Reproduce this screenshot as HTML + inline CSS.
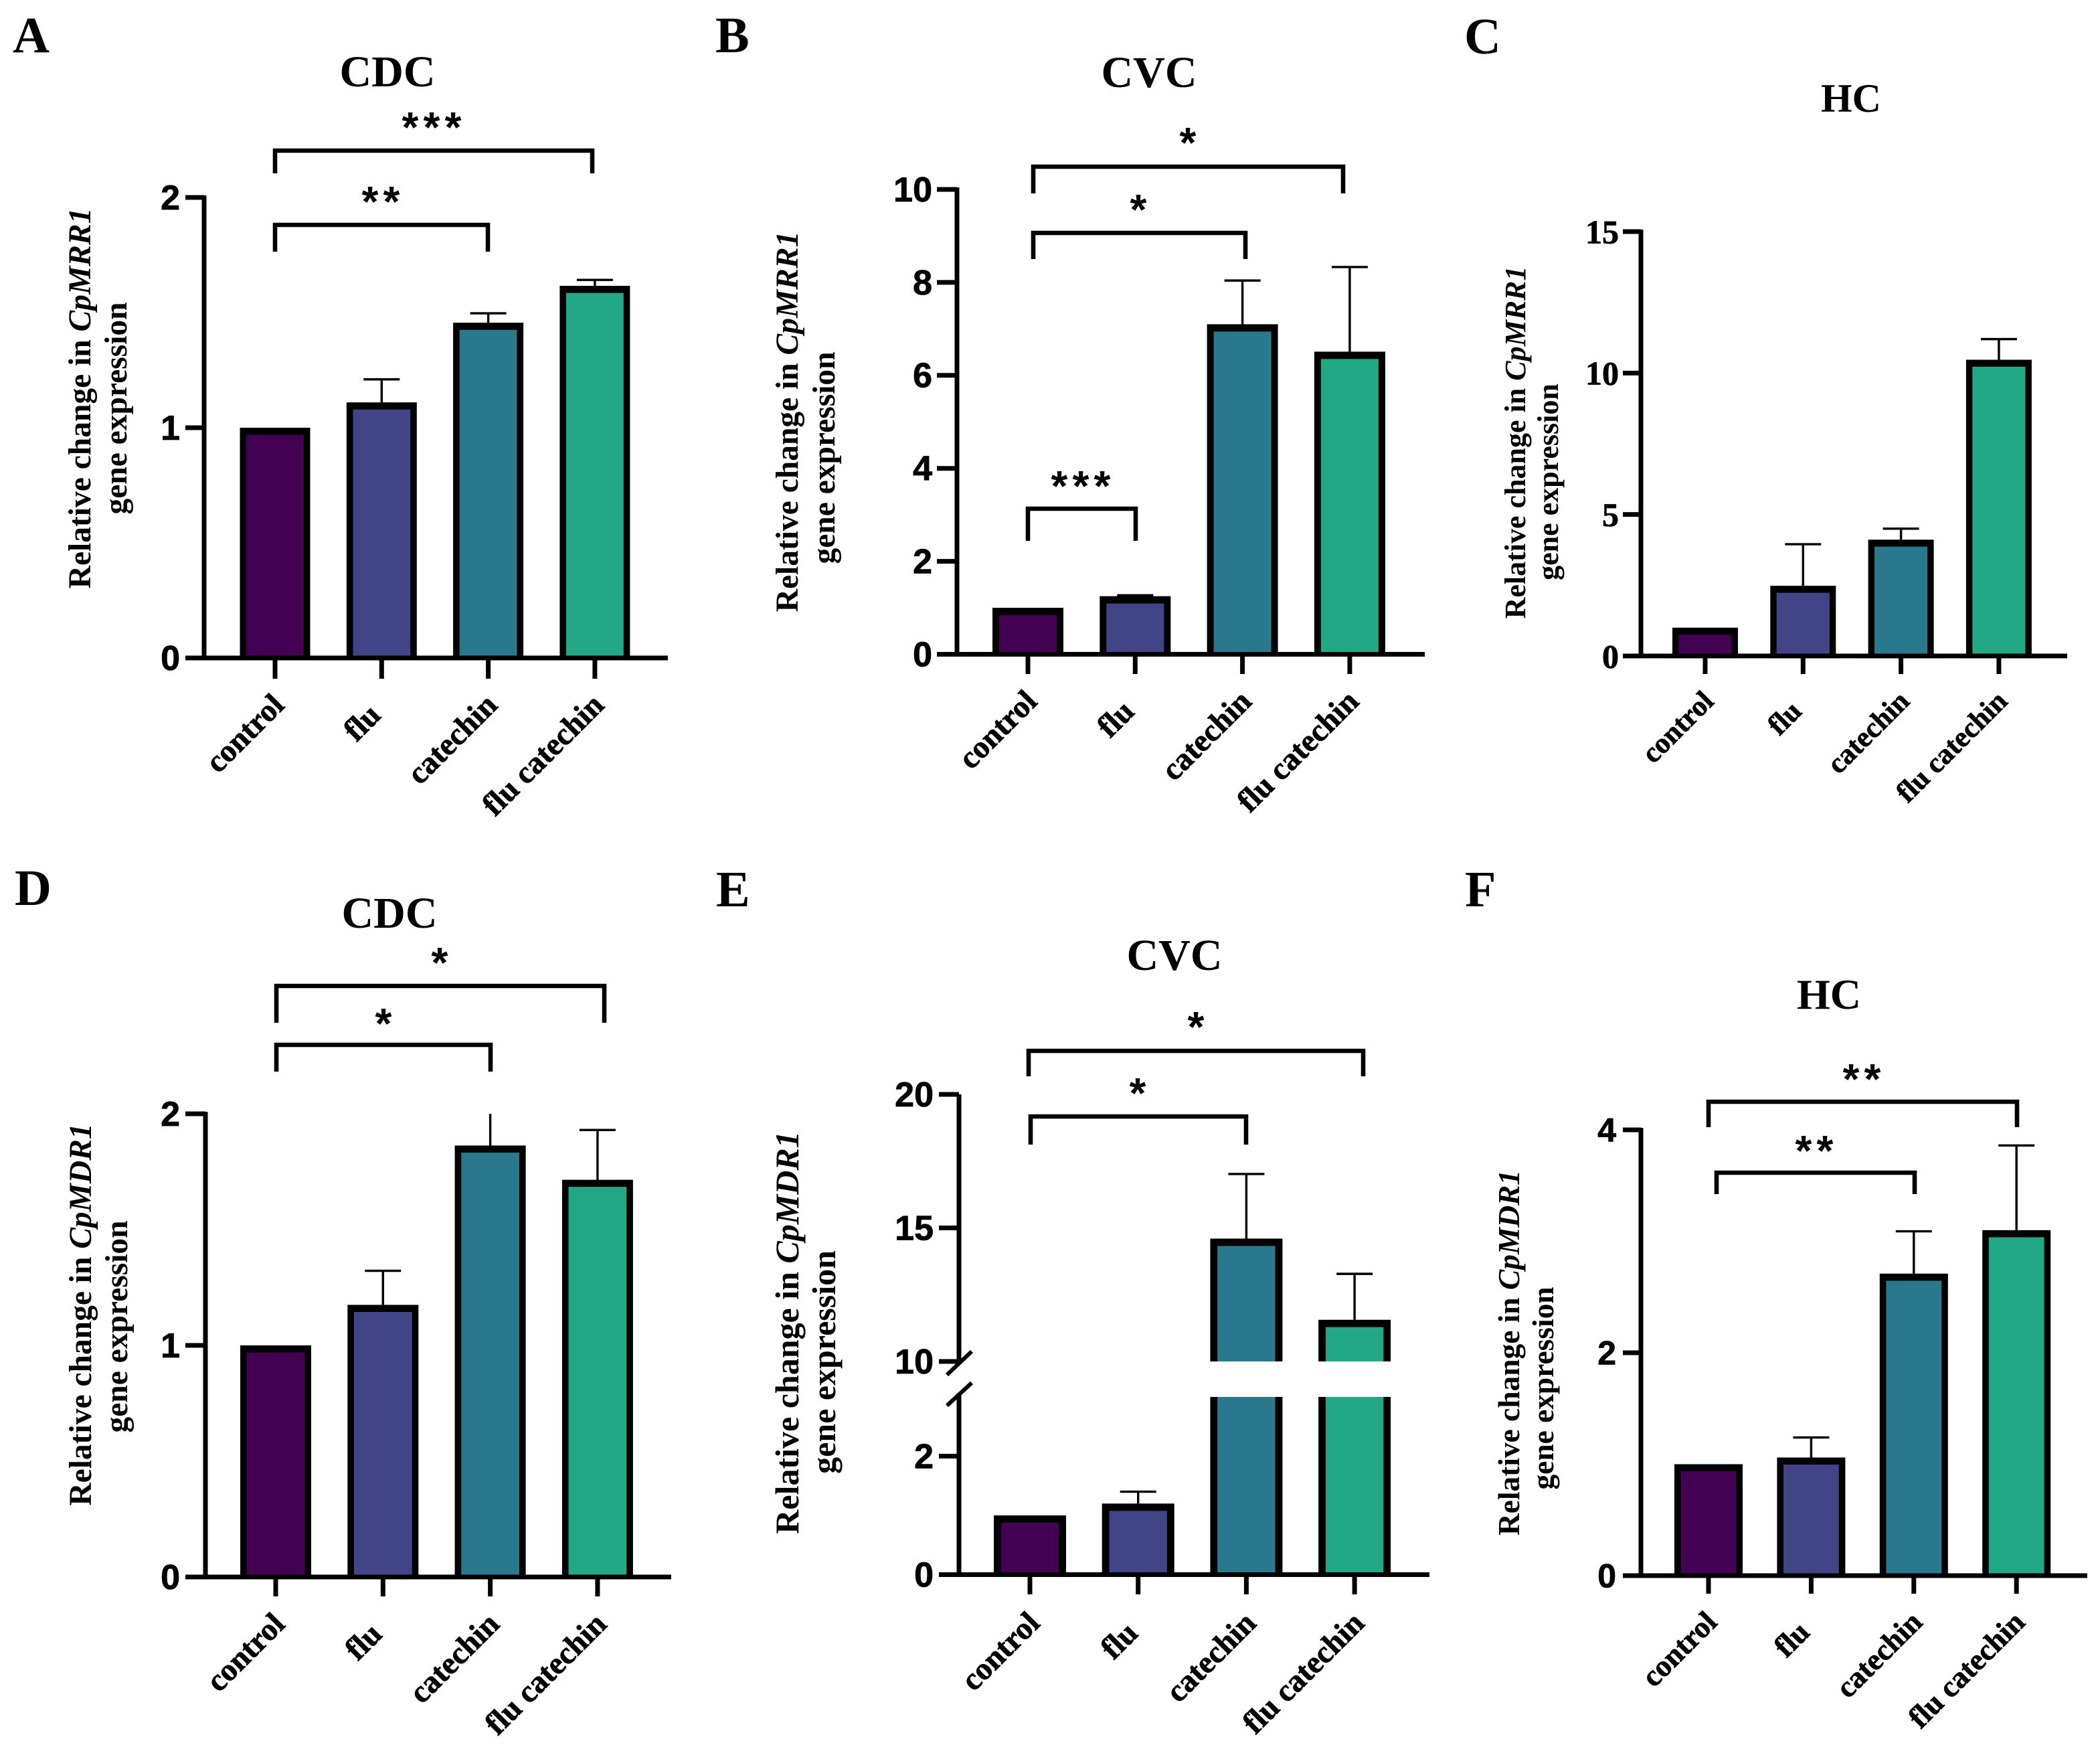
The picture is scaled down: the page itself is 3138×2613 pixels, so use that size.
<!DOCTYPE html>
<html lang="en">
<head>
<meta charset="utf-8">
<title>Relative gene expression panels</title>
<style>
html,body{margin:0;padding:0;background:#fff}
svg{display:block}
text{fill:#000}
.serif{font-family:"Liberation Serif",serif;font-weight:bold}
.sans{font-family:"Liberation Sans",sans-serif;font-weight:bold}
.heavy{stroke:#000;stroke-width:0.8}
</style>
</head>
<body>
<svg id="figure" xmlns="http://www.w3.org/2000/svg" width="3138" height="2613" viewBox="0 0 3138 2613"></svg>
<script>
const categories = ['control', 'flu', 'catechin', 'flu catechin'];
const barColors = ['#440154', '#414487', '#2a788e', '#22a884'];

const meansA = [1, 1.11, 1.456, 1.616];
const errorsA = [0, 0.1, 0.041, 0.026];
const ticksA = [0, 1, 2];

const meansB = [1, 1.25, 7.1, 6.51];
const errorsB = [0, 0.02, 0.94, 1.82];
const ticksB = [0, 2, 4, 6, 8, 10];

const meansC = [1, 2.48, 4.11, 10.47];
const errorsC = [0, 1.47, 0.39, 0.73];
const ticksC = [0, 5, 10, 15];

const meansD = [1, 1.175, 1.863, 1.715];
const errorsD = [0, 0.147, 0.16, 0.215];
const ticksD = [0, 1, 2];

const meansE = [1, 1.2, 14.6, 11.56];
const errorsE = [0, 0.2, 2.42, 1.72];
const ticksE = [0, 2, 10, 15, 20];

const meansF = [1, 1.06, 2.71, 3.1];
const errorsF = [0, 0.18, 0.38, 0.76];
const ticksF = [0, 2, 4];

const NS = 'http://www.w3.org/2000/svg';
const root = document.getElementById('figure');

function mk(tag, attrs, parent) {
  const el = document.createElementNS(NS, tag);
  for (const k in attrs) el.setAttribute(k, attrs[k]);
  parent.appendChild(el);
  return el;
}

function makeScale(f) {
  if (!f.brk) {
    return v => f.y0 - (v / f.max) * (f.y0 - f.yTop);
  }
  const b = f.brk;
  return v => v <= b.lowMax
    ? f.y0 - (v / b.lowMax) * (f.y0 - b.lowTopY)
    : b.highBottomY - ((v - b.highMin) / (f.max - b.highMin)) * (b.highBottomY - f.yTop);
}

function drawPanel(f, means, errors, ticks) {
  const g = mk('g', {}, root);
  
  
  const y = makeScale(f);

  const letter = mk('text', {x: f.letterX, y: f.letterY, class: 'serif', 'font-size': 76}, g);
  letter.textContent = f.letter;
  
  

  const title = mk('text', {x: f.titleX, y: f.titleY, class: 'serif', 'font-size': f.titleSize, 'text-anchor': 'middle'}, g);
  title.textContent = f.title;
  
  

  const t1 = mk('text', {transform: 'translate(' + f.yt1X + ',' + f.yt1Y + ') rotate(-90)', class: 'serif', 'font-size': f.ytSize, 'text-anchor': 'middle'}, g);
  
  
  t1.appendChild(document.createTextNode('Relative change in '));
  const gene = mk('tspan', {'font-style': 'italic'}, t1);
  gene.textContent = f.gene;

  const t2 = mk('text', {transform: 'translate(' + f.yt2X + ',' + f.yt2Y + ') rotate(-90)', class: 'serif', 'font-size': f.ytSize, 'text-anchor': 'middle'}, g);
  t2.textContent = 'gene expression';
  
  

  // bars
  means.forEach((m, i) => {
    const cx = f.cx0 + i * f.step;
    const left = cx - f.bw / 2, s = f.sw;
    const topBorder = f.st || s + 1;
    const top = y(m);
    const bar = mk('g', {}, g);
    
    
    const segments = [];
    if (f.brk && m > f.brk.lowMax) {
      segments.push([f.brk.lowTopY, f.y0, false]);
      segments.push([top, f.brk.highBottomY, true]);
    } else {
      segments.push([top, f.y0, true]);
    }
    segments.forEach(seg => {
      mk('rect', {x: left, y: seg[0], width: f.bw, height: seg[1] - seg[0], fill: '#000'}, bar);
      const inset = seg[2] ? topBorder : 0;
      mk('rect', {x: left + s, y: seg[0] + inset, width: f.bw - 2 * s, height: Math.max(0, seg[1] - seg[0] - inset), fill: barColors[i]}, bar);
    });
    if (errors[i] > 0) {
      const tip = m + errors[i];
      const clipped = tip > f.max;
      const e = y(clipped ? f.max : tip);
      const d = 'M' + cx + ' ' + top + 'V' + e + (clipped ? '' : 'M' + (cx - 27) + ' ' + e + 'H' + (cx + 27));
      const whisker = mk('path', {d: d, stroke: '#000', 'stroke-width': 3.4, fill: 'none'}, g);
      
      
    }
  });

  // axes
  const axW = 7;
  let yAxisPath;
  if (f.brk) {
    const b = f.brk;
    yAxisPath = 'M' + f.axisX + ' ' + (f.y0 + 3) + 'V' + (b.lowTopY - 5) + 'M' + f.axisX + ' ' + (b.highBottomY + 4) + 'V' + f.yTop;
    const slashes = mk('path', {d: 'M' + (f.axisX - 18) + ' ' + (b.lowTopY + 13) + 'L' + (f.axisX + 19) + ' ' + (b.lowTopY - 21)
      + 'M' + (f.axisX - 18) + ' ' + (b.highBottomY + 20) + 'L' + (f.axisX + 19) + ' ' + (b.highBottomY - 15), stroke: '#000', 'stroke-width': 6, fill: 'none'}, g);
    
    
  } else {
    yAxisPath = 'M' + f.axisX + ' ' + (f.y0 + 3) + 'V' + (f.yTop - 3);
  }
  const yAxis = mk('path', {d: yAxisPath, stroke: '#000', 'stroke-width': axW, fill: 'none'}, g);
  
  
  const xAxis = mk('path', {d: 'M' + f.tickL + ' ' + f.y0 + 'H' + f.xEnd, stroke: '#000', 'stroke-width': axW, fill: 'none'}, g);
  
  

  ticks.forEach(t => {
    const ty = y(t);
    const tick = mk('path', {d: 'M' + f.tickL + ' ' + ty + 'H' + f.axisX, stroke: '#000', 'stroke-width': axW, fill: 'none'}, g);
    
    
    const lab = mk('text', {x: f.ylabX, y: ty + f.tickSize * 0.345, class: (f.tickSerif ? 'serif' : 'sans') + ' heavy', 'font-size': f.tickSize, 'text-anchor': 'end'}, g);
    lab.textContent = t;
    
    
  });

  categories.forEach((c, i) => {
    const cx = f.cx0 + i * f.step;
    const tick = mk('path', {d: 'M' + cx + ' ' + f.y0 + 'V' + f.tickB, stroke: '#000', 'stroke-width': axW, fill: 'none'}, g);
    
    
    const slide = c === 'flu' ? 15 : 0;
    const lab = mk('text', {transform: 'translate(' + (cx + f.xlabDx - slide) + ',' + (f.y0 + f.xlabDy + slide) + ') rotate(-45)', class: 'serif heavy', 'font-size': f.xlabSize, 'text-anchor': 'end'}, g);
    lab.textContent = c;
    
    
  });

  // significance brackets
  (f.brackets || []).forEach(b => {
    const path = mk('path', {d: 'M' + b.l + ' ' + b.bottom + 'V' + b.top + 'H' + b.r + 'V' + b.bottom, stroke: '#000', 'stroke-width': 6.6, fill: 'none'}, g);
    
    
    const n = b.stars.length, gap = 32, size = 64;
    const xs = [];
    for (let k = 0; k < n; k++) xs.push(b.sx + (k - (n - 1) / 2) * gap);
    const star = mk('text', {x: xs.join(' '), y: b.sy - 6 + size * 0.56, class: 'sans', 'font-size': size, 'text-anchor': 'middle'}, g);
    star.textContent = b.stars;
    
    
  });
}

drawPanel({letter: 'A', letterX: 19, letterY: 78, title: 'CDC', titleX: 579, titleY: 129, titleSize: 66, gene: 'CpMRR1',
  ytSize: 47.5, yt1X: 135, yt1Y: 595, yt2X: 189, yt2Y: 610,
  axisX: 305, y0: 983, yTop: 295, max: 2, tickL: 277, xEnd: 998, tickB: 1014, ylabX: 269, tickSize: 52,
  cx0: 411, step: 159.3, bw: 105, sw: 9.6, xlabDx: 16, xlabDy: 73, xlabSize: 47,
  brackets: [
    {l: 411, r: 729, top: 336, bottom: 376, stars: '**', sx: 569, sy: 293},
    {l: 411, r: 885, top: 225, bottom: 259, stars: '***', sx: 645, sy: 182}
  ]}, meansA, errorsA, ticksA);

drawPanel({letter: 'B', letterX: 1069, letterY: 78, title: 'CVC', titleX: 1717, titleY: 130, titleSize: 66, gene: 'CpMRR1',
  ytSize: 47.5, yt1X: 1192, yt1Y: 630, yt2X: 1247, yt2Y: 684,
  axisX: 1430, y0: 977.5, yTop: 283, max: 10, tickL: 1400, xEnd: 2129, tickB: 1007, ylabX: 1393, tickSize: 52,
  cx0: 1536, step: 160.3, bw: 106, sw: 10, xlabDx: 16, xlabDy: 73, xlabSize: 47,
  brackets: [
    {l: 1536, r: 1697, top: 760, bottom: 808, stars: '***', sx: 1615, sy: 718},
    {l: 1544, r: 1861, top: 348, bottom: 387, stars: '*', sx: 1701, sy: 305},
    {l: 1544, r: 2007, top: 249, bottom: 289, stars: '*', sx: 1775, sy: 205}
  ]}, meansB, errorsB, ticksB);

drawPanel({letter: 'C', letterX: 2188, letterY: 80, title: 'HC', titleX: 2766, titleY: 167, titleSize: 60, gene: 'CpMRR1',
  ytSize: 44, yt1X: 2279, yt1Y: 661, yt2X: 2328, yt2Y: 720,
  axisX: 2452, y0: 980, yTop: 346, max: 15, tickL: 2425, xEnd: 3089, tickB: 1007, ylabX: 2419, tickSize: 50, tickSerif: true,
  cx0: 2548, step: 146.3, bw: 98, sw: 9.4, xlabDx: 15, xlabDy: 70, xlabSize: 43,
  brackets: []}, meansC, errorsC, ticksC);

drawPanel({letter: 'D', letterX: 22, letterY: 1352, title: 'CDC', titleX: 582, titleY: 1386, titleSize: 66, gene: 'CpMDR1',
  ytSize: 47.5, yt1X: 136, yt1Y: 1964, yt2X: 190, yt2Y: 1982,
  axisX: 307, y0: 2356, yTop: 1664, max: 2, tickL: 277, xEnd: 1003, tickB: 2385, ylabX: 269, tickSize: 52,
  cx0: 412, step: 160.3, bw: 106, sw: 9.6, xlabDx: 16, xlabDy: 73, xlabSize: 47,
  brackets: [
    {l: 413, r: 733, top: 1561, bottom: 1601, stars: '*', sx: 573, sy: 1521},
    {l: 413, r: 903, top: 1473, bottom: 1528, stars: '*', sx: 657, sy: 1430}
  ]}, meansD, errorsD, ticksD);

drawPanel({letter: 'E', letterX: 1070, letterY: 1354, title: 'CVC', titleX: 1755, titleY: 1449, titleSize: 66, gene: 'CpMDR1',
  ytSize: 50, yt1X: 1193, yt1Y: 1991, yt2X: 1248, yt2Y: 2035,
  axisX: 1433, y0: 2352.5, yTop: 1635, max: 20, tickL: 1403, xEnd: 2136, tickB: 2382, ylabX: 1395, tickSize: 52,
  brk: {lowMax: 3, highMin: 10, lowTopY: 2087, highBottomY: 2034},
  cx0: 1539, step: 161.7, bw: 108, sw: 10.8, st: 11, xlabDx: 17, xlabDy: 75, xlabSize: 47,
  brackets: [
    {l: 1540, r: 1862, top: 1668, bottom: 1710, stars: '*', sx: 1700, sy: 1625},
    {l: 1537, r: 2037, top: 1570, bottom: 1608, stars: '*', sx: 1787, sy: 1526}
  ]}, meansE, errorsE, ticksE);

drawPanel({letter: 'F', letterX: 2189, letterY: 1354, title: 'HC', titleX: 2733, titleY: 1507, titleSize: 64, gene: 'CpMDR1',
  ytSize: 45.4, yt1X: 2270, yt1Y: 2021, yt2X: 2321, yt2Y: 2074,
  axisX: 2452, y0: 2354, yTop: 1688, max: 4, tickL: 2425, xEnd: 3119, tickB: 2381, ylabX: 2415, tickSize: 50,
  cx0: 2553, step: 153.4, bw: 102, sw: 9.6, xlabDx: 15, xlabDy: 72, xlabSize: 45,
  brackets: [
    {l: 2565, r: 2861, top: 1752, bottom: 1784, stars: '**', sx: 2711, sy: 1711},
    {l: 2553, r: 3014, top: 1646, bottom: 1684, stars: '**', sx: 2782, sy: 1604}
  ]}, meansF, errorsF, ticksF);
</script>
</body>
</html>
